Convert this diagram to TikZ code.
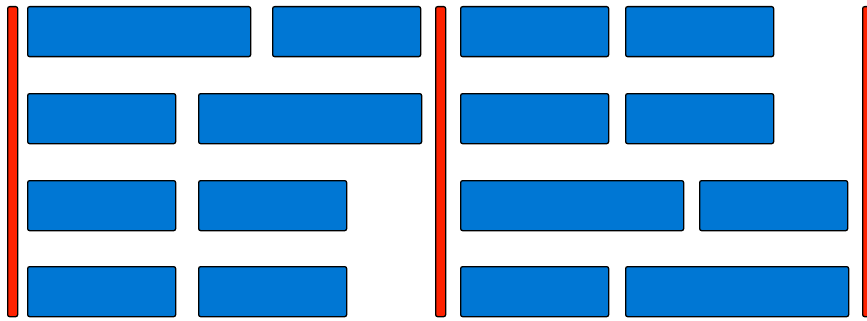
\documentclass[tikz,border=0pt]{standalone}
\usepackage{xcolor}
\usepackage{tikz}
\usetikzlibrary{positioning}

\definecolor{jobblue}{RGB}{0,119,212}
\definecolor{barred}{RGB}{255,34,0}

\begin{document}
\begin{tikzpicture}[
  x=1pt, y=-1pt,
  every node/.style = {draw=black, line width=1.3pt, rounded corners=2pt,
                       inner sep=0pt, anchor=north west},
  job/.style   = {fill=jobblue, minimum height=50pt},
  short/.style = {job, minimum width=148pt},
  long/.style  = {job, minimum width=223pt},
  bar/.style   = {fill=barred, minimum width=10pt, minimum height=310pt}
]
\useasboundingbox (0,0) rectangle (867,321);

% separators
\node[bar] (sepA) at (7,6)   {};
\node[bar] (sepB) at (435,6) {};
\node[bar] (sepC) at (862,6) {};

% left block
\node[long]  (l1a) at (27,6)    {};
\node[short] (l1b) at (272,6)   {};
\node[short] (l2a) at (27,93)   {};
\node[long]  (l2b) at (198,93)  {};
\node[short] (l3a) at (27,180)  {};
\node[short] (l3b) at (198,180) {};
\node[short] (l4a) at (27,266)  {};
\node[short] (l4b) at (198,266) {};

% right block
\node[short] (r1a) at (460,6)   {};
\node[short] (r1b) at (625,6)   {};
\node[short] (r2a) at (460,93)  {};
\node[short] (r2b) at (625,93)  {};
\node[long]  (r3a) at (460,180) {};
\node[short] (r3b) at (699,180) {};
\node[short] (r4a) at (460,266) {};
\node[long]  (r4b) at (625,266) {};

\end{tikzpicture}
\end{document}
